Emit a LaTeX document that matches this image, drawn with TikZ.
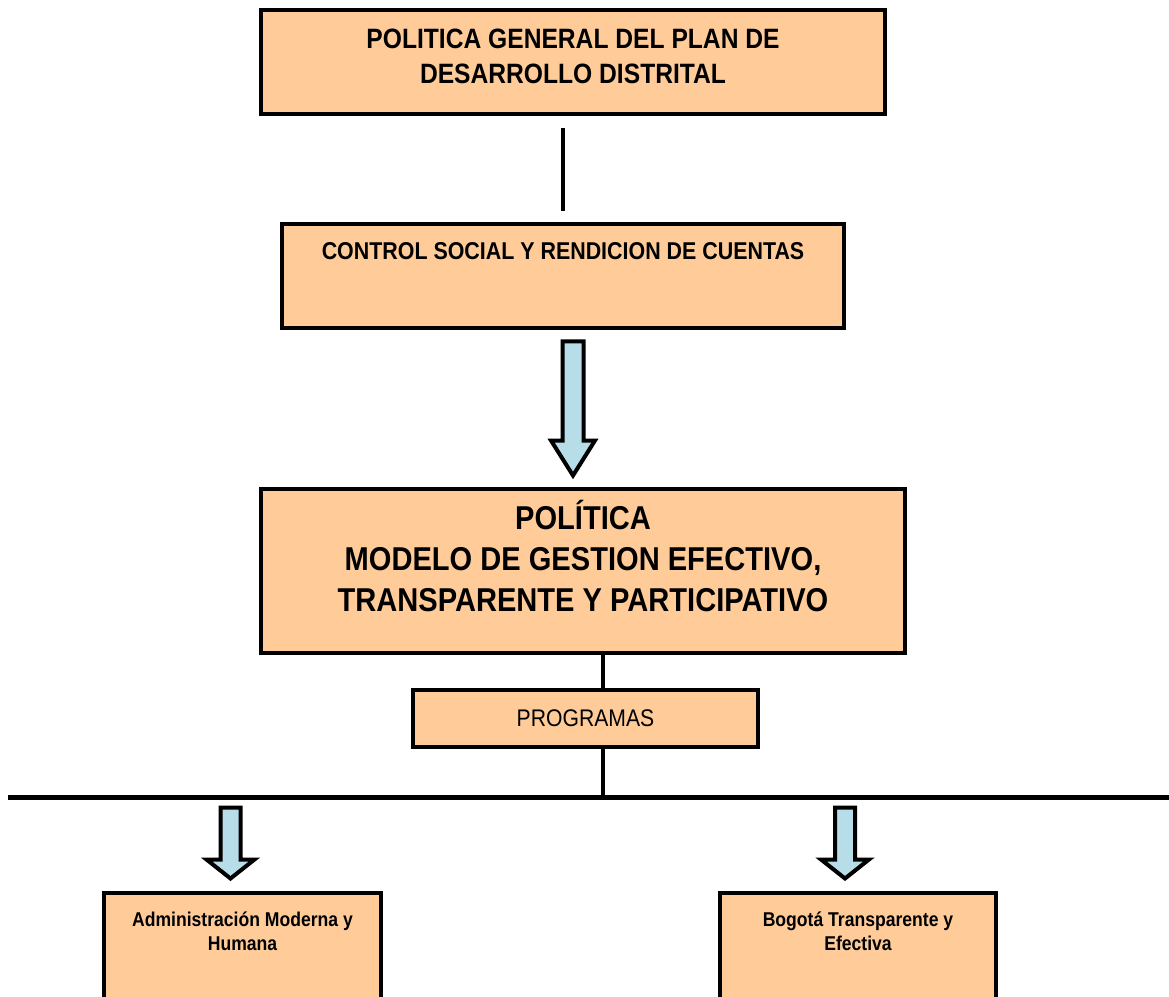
\documentclass[tikz,border=0pt]{standalone}
\usepackage{fontspec}
\setmainfont[FakeStretch=0.88]{Liberation Sans}
\usetikzlibrary{calc,positioning}
\definecolor{durazno}{HTML}{FFCC99}
\definecolor{celeste}{HTML}{B7DDE8}
\newlength{\px}\setlength{\px}{0.025cm}
\tikzset{
  caja/.style={draw, fill=durazno, line width=4\px, inner sep=0pt},
  conector/.style={line width=4\px},
  flechastyle/.style={draw, fill=celeste, line width=4\px, line join=miter},
  titulo/.style={font=\bfseries\fontsize{19.9pt}{24.9pt}\selectfont, align=center},
  grande/.style={font=\bfseries\fontsize{23.5pt}{29.2pt}\selectfont, align=center},
  mediano/.style={font=\bfseries\fontsize{17.3pt}{20pt}\selectfont, align=center},
  chico/.style={font=\bfseries\fontsize{14.2pt}{17.1pt}\selectfont, align=center},
}
% centre, half length, head length, shaft half width, head half width
\newcommand{\flecha}[5]{%
  \draw[flechastyle] ($(#1)+(-#4,-#2)$) -- ++(2*#4,0) -- ++(0,2*#2-#3) -- ++(#5-#4,0)
    -- ($(#1)+(0,#2)$) -- ++(-#5,-#3) -- ++(#5-#4,0) -- cycle;}
\begin{document}
\begin{tikzpicture}[x=0.025cm,y=-0.025cm]
\clip (0,0) rectangle (1169,997);

% cajas
\node[caja, minimum width=624\px, minimum height=104\px] (plan) at (573,62) {};
\node[caja, minimum width=562\px, minimum height=104\px] (ctrl) at (563,276) {};
\node[caja, minimum width=644\px, minimum height=164\px] (polit) at (583,571) {};
\node[caja, minimum width=345\px, minimum height=57\px, font=\fontsize{17.1pt}{20pt}\selectfont] (progs) at (585.5,718.5) {PROGRAMAS};
\node[caja, minimum width=277\px, minimum height=147\px] (adm) at (242.5,966.5) {};
\node[caja, minimum width=276\px, minimum height=147\px] (bog) at (858,966.5) {};

% textos
\node[titulo] (plantxt) at (573,56) {POLITICA GENERAL DEL PLAN DE\\DESARROLLO DISTRITAL};
\node[mediano] (ctrltxt) at (563,251) {CONTROL SOCIAL Y RENDICION DE CUENTAS};
\node[grande] (polittxt) at (583,556) {POLÍTICA\\MODELO DE GESTION EFECTIVO,\\TRANSPARENTE Y PARTICIPATIVO};
\node[chico] (admtxt) at (242.5,931) {Administración Moderna y\\Humana};
\node[chico] (bogtxt) at (858,931) {Bogotá Transparente y\\Efectiva};

% lineas
\coordinate (eje) at (603,0);
\coordinate (barL) at (8,797);
\coordinate (barR) at (1169,797);
\draw[conector] ($(plan.south -| ctrl.north)+(0,12)$) -- ($(ctrl.north)+(0,-11)$);
\draw[conector] (polit.south -| eje) -- (progs.north -| eje);
\draw[conector] (progs.south -| eje) -- (barL -| eje);
\draw[line width=5\px] (barL) -- (barR);

% flechas
\coordinate (f1) at ($(ctrl.south)!0.5!(polit.north)$);
\coordinate (f2) at ($(adm.north)+(-12,-48)$);
\coordinate (f3) at ($(bog.north)+(-13,-48)$);
\flecha{f1}{67}{35}{10.5}{22}
\flecha{f2}{35.5}{19}{10}{24}
\flecha{f3}{35.5}{19}{10}{24}

\end{tikzpicture}
\end{document}
